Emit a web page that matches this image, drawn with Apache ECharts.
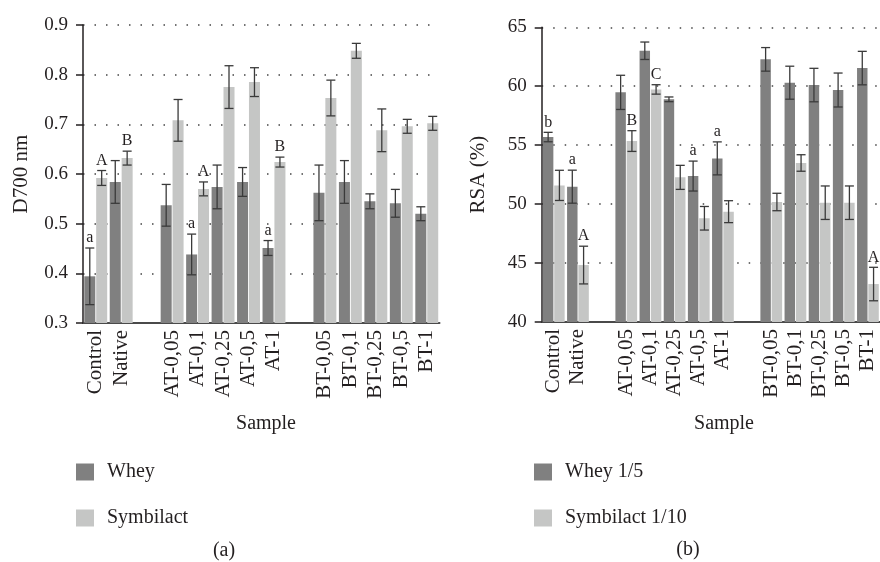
<!DOCTYPE html>
<html><head><meta charset="utf-8">
<script src="https://cdn.jsdelivr.net/npm/echarts@6/dist/echarts.min.js"></script>
<style>html,body{margin:0;padding:0;background:#fff}#c{width:880px;height:562px}</style>
</head><body><div id="c"></div>
<script>
// ---------- data ----------
const categories = ['Control','Native','','AT-0,05','AT-0,1','AT-0,25','AT-0,5','AT-1','','BT-0,05','BT-0,1','BT-0,25','BT-0,5','BT-1'];

const wheyD700        = [0.394,0.584,null,0.537,0.438,0.574,0.584,0.451,null,0.562,0.584,0.545,0.541,0.520];
const wheyD700Err     = [0.057,0.043,null,0.042,0.041,0.044,0.029,0.015,null,0.056,0.043,0.015,0.028,0.014];
const wheyD700Letters = ['a','','','','a','','','a','','','','','',''];
const symD700         = [0.592,0.632,null,0.708,0.570,0.775,0.785,0.624,null,0.753,0.848,0.688,0.696,0.702];
const symD700Err      = [0.015,0.014,null,0.042,0.014,0.043,0.029,0.010,null,0.036,0.015,0.043,0.014,0.014];
const symD700Letters  = ['A','B','','','A','','','B','','','','','',''];

const wheyRSA        = [55.69,51.48,null,59.48,63.01,58.89,52.38,53.88,null,62.28,60.30,60.10,59.68,61.54];
const wheyRSAErr     = [0.40,1.40,null,1.45,0.74,0.20,1.27,1.40,null,1.00,1.40,1.42,1.44,1.42];
const wheyRSALetters = ['b','a','','','','','a','a','','','','','',''];
const symRSA         = [51.59,44.83,null,55.35,59.73,52.27,48.80,49.36,null,50.18,53.49,50.12,50.12,43.22];
const symRSAErr      = [1.28,1.60,null,0.88,0.40,1.02,1.00,0.93,null,0.74,0.70,1.42,1.42,1.42];
const symRSALetters  = ['','A','','B','C','','','','','','','','','A'];

const yTicksD700 = {min:0.3, max:0.9, interval:0.1};
const yTicksRSA  = {min:40, max:65, interval:5};

// ---------- styling ----------
const FONT = 'Liberation Serif';
const TXT = '#231f20';
const DARK = '#808080', LIGHT = '#c5c6c5';
const CAT_GAP = 0.10, BAR_GAP = 0.08;

function errData(vals, errs){
  const out = [];
  vals.forEach((v,i)=>{ if(v!=null) out.push([i, v, errs[i]]); });
  return out;
}
function errSeries(name, vals, errs, letters, sign, axisIdx){
  const data = errData(vals, errs);
  return {
    type:'custom', name:name, xAxisIndex:axisIdx, yAxisIndex:axisIdx, z:5,
    encode:{x:0,y:1}, data:data, silent:true,
    renderItem:function(params, api){
      const idx = api.value(0), v = api.value(1), e = api.value(2);
      const band = api.size([1,0])[0];
      const bw = band*(1-CAT_GAP)/(2+BAR_GAP);
      const off = sign*(bw*(1+BAR_GAP)/2);
      const hi = api.coord([idx, v+e]), lo = api.coord([idx, v-e]);
      const cx = hi[0]+off, hw = 4.5;
      const st = {stroke:'#3a3a3a', lineWidth:1.3};
      const ch = [
        {type:'line', shape:{x1:cx,y1:hi[1],x2:cx,y2:lo[1]}, style:st},
        {type:'line', shape:{x1:cx-hw,y1:hi[1],x2:cx+hw,y2:hi[1]}, style:st},
        {type:'line', shape:{x1:cx-hw,y1:lo[1],x2:cx+hw,y2:lo[1]}, style:st}
      ];
      const L = letters[idx];
      if(L){
        ch.push({type:'text', style:{text:L, x:cx, y:hi[1]-2, align:'center', verticalAlign:'bottom',
          font:'16px "'+FONT+'"', fill:TXT}});
      }
      return {type:'group', children:ch};
    }
  };
}
function xAxisCfg(gi){
  return {
    type:'category', gridIndex:gi, data:categories,
    axisTick:{show:false},
    axisLine:{show:true, lineStyle:{color:'#4a4a4a', width:2}},
    axisLabel:{rotate:90, interval:0, margin:7, fontFamily:FONT, fontSize:21, color:TXT}
  };
}
function yAxisCfg(gi, t, name, gap, fmt){
  return {
    type:'value', gridIndex:gi, min:t.min, max:t.max, interval:t.interval,
    name:name, nameLocation:'middle', nameGap:gap, nameRotate:90,
    nameTextStyle:{fontFamily:FONT, fontSize:21, color:TXT},
    axisLine:{show:true, lineStyle:{color:TXT, width:1.5}},
    axisTick:{show:true, length:7, lineStyle:{color:TXT, width:1.5}},
    axisLabel:{margin:15, fontFamily:FONT, fontSize:19, color:TXT, formatter:fmt},
    splitLine:{show:true, lineStyle:{type:[1.5,10], color:'#444', width:1.5}}
  };
}
function barSeries(name, vals, color, gi){
  return {type:'bar', name:name, xAxisIndex:gi, yAxisIndex:gi, data:vals,
    barCategoryGap:(CAT_GAP*100)+'%', barGap:(BAR_GAP*100)+'%',
    itemStyle:{color:color}};
}
function legendCfg(names, left){
  return {data:names, orient:'vertical', left:left, top:462, padding:0,
    itemWidth:18, itemHeight:17, itemGap:26, icon:'rect',
    textStyle:{fontFamily:FONT, fontSize:20, color:TXT, padding:[0,0,0,8]}};
}

const chart = echarts.init(document.getElementById('c'), null, {renderer:'canvas'});
chart.setOption({
  animation:false,
  backgroundColor:'#fff',
  grid:[
    {left:83, top:25, width:356.5, height:298},
    {left:541.7, top:27.3, width:344.2, height:294.7}
  ],
  xAxis:[xAxisCfg(0), xAxisCfg(1)],
  yAxis:[
    yAxisCfg(0, yTicksD700, 'D700 nm', 51, v=>v.toFixed(1)),
    yAxisCfg(1, yTicksRSA, 'RSA (%)', 53, v=>String(v))
  ],
  legend:[legendCfg(['Whey','Symbilact'], 76), legendCfg(['Whey 1/5','Symbilact 1/10'], 534)],
  series:[
    barSeries('Whey', wheyD700, DARK, 0),
    barSeries('Symbilact', symD700, LIGHT, 0),
    barSeries('Whey 1/5', wheyRSA, DARK, 1),
    barSeries('Symbilact 1/10', symRSA, LIGHT, 1),
    errSeries('errWheyD700', wheyD700, wheyD700Err, wheyD700Letters, -1, 0),
    errSeries('errSymD700', symD700, symD700Err, symD700Letters, 1, 0),
    errSeries('errWheyRSA', wheyRSA, wheyRSAErr, wheyRSALetters, -1, 1),
    errSeries('errSymRSA', symRSA, symRSAErr, symRSALetters, 1, 1)
  ],
  graphic:[
    {type:'text', left:'center', style:{text:'Sample', x:266, y:424, align:'center', verticalAlign:'middle', font:'20px "'+FONT+'"', fill:TXT}, left:null},
    {type:'text', style:{text:'Sample', x:724, y:424, align:'center', verticalAlign:'middle', font:'20px "'+FONT+'"', fill:TXT}},
    {type:'text', style:{text:'(a)', x:224, y:551, align:'center', verticalAlign:'middle', font:'20px "'+FONT+'"', fill:TXT}},
    {type:'text', style:{text:'(b)', x:688, y:550, align:'center', verticalAlign:'middle', font:'20px "'+FONT+'"', fill:TXT}}
  ]
});
</script>
</body></html>
